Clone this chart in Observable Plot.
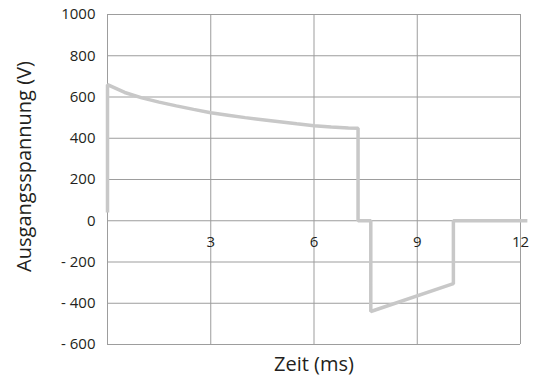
<!DOCTYPE html>
<html>
<head>
<meta charset="utf-8">
<script src="https://cdn.jsdelivr.net/npm/d3@7"></script>
<script src="https://cdn.jsdelivr.net/npm/@observablehq/plot@0.6"></script>
<style>
  html, body { margin: 0; padding: 0; background: #fff; }
  #chart svg { display: block; }
</style>
</head>
<body>
<div id="chart"></div>
<script>
// Data
const timeMs = [0, 0, 0.5, 1, 1.5, 2, 2.5, 3, 3.5, 4, 4.5, 5, 5.5, 6, 6.5, 7, 7.28, 7.28, 7.65, 7.65, 10.05, 10.05, 12.2];
const voltage = [40, 660, 622, 596, 575, 557, 540, 524, 512, 500, 490, 480, 470, 461, 455, 450, 448, 0, 0, -440, -305, 0, 0];
const xTicks = [3, 6, 9, 12];
const yTicks = [-600, -400, -200, 0, 200, 400, 600, 800, 1000];
const xLabel = "Zeit (ms)";
const yLabel = "Ausgangsspannung (V)";

const points = timeMs.map((t, i) => ({t, v: voltage[i]}));
const fmtY = d => d < 0 ? "- " + (-d) : String(d);
const font = "'Open Sans', 'DejaVu Sans', sans-serif";

const chart = Plot.plot({
  width: 535,
  height: 380,
  marginLeft: 107,
  marginRight: 15,
  marginTop: 14,
  marginBottom: 36,
  style: {fontFamily: font, fontSize: "15px", color: "#231f20", background: "#fff"},
  x: {domain: [0, 12], axis: null},
  y: {domain: [-600, 1000], axis: null},
  marks: [
    Plot.ruleY(yTicks, {stroke: "#9d9d9d", strokeWidth: 1}),
    Plot.ruleX(xTicks, {stroke: "#9d9d9d", strokeWidth: 1}),
    Plot.ruleX([0], {stroke: "#9d9d9d", strokeWidth: 1}),
    Plot.line(points, {x: "t", y: "v", stroke: "#c8c8c8", strokeWidth: 3.5, strokeLinejoin: "miter", strokeLinecap: "butt"}),
    Plot.text(yTicks, {x: 0, y: d => d, text: fmtY, textAnchor: "end", dx: -12, fontSize: 15, fill: "#231f20"}),
    Plot.text(xTicks, {x: d => d, y: 0, text: d => String(d), dy: 21, fontSize: 15, fill: "#231f20"}),
    Plot.text([xLabel], {frameAnchor: "bottom", dy: 26, fontSize: 20, fill: "#231f20"}),
    Plot.text([yLabel], {frameAnchor: "left", textAnchor: "middle", rotate: -90, dx: -83, dy: -13, fontSize: 20, fill: "#231f20"})
  ]
});
document.getElementById("chart").appendChild(chart);
</script>
</body>
</html>
